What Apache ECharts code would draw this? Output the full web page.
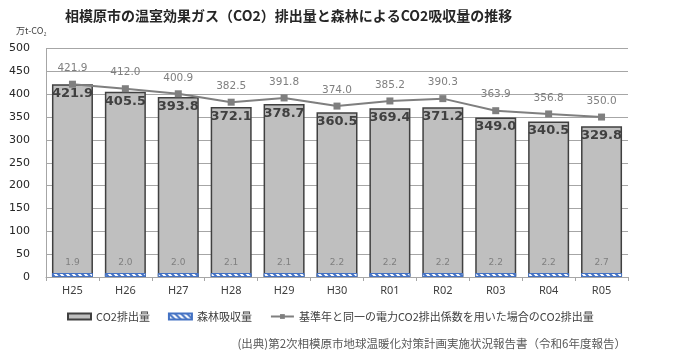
<!DOCTYPE html>
<html><head><meta charset="utf-8">
<script src="https://cdn.jsdelivr.net/npm/echarts@6/dist/echarts.min.js"></script>
<style>html,body{margin:0;padding:0;background:#fff}#c{width:690px;height:358px}</style>
</head><body><div id="c"></div>
<script>
const categories = ['H25','H26','H27','H28','H29','H30','R01','R02','R03','R04','R05'];
const emissions = [421.9,405.5,393.8,372.1,378.7,360.5,369.4,371.2,349.0,340.5,329.8];
const absorption = [1.9,2.0,2.0,2.1,2.1,2.2,2.2,2.2,2.2,2.2,2.7];
const baseYearEmissions = [421.9,412.0,400.9,382.5,391.8,374.0,385.2,390.3,363.9,356.8,350.0];
const seriesNames = ['CO2排出量','森林吸収量','基準年と同一の電力CO2排出係数を用いた場合のCO2排出量'];
const titleText = '相模原市の温室効果ガス（CO2）排出量と森林によるCO2吸収量の推移';
const unitText = '万t-CO₂';
const sourceText = '(出典)第2次相模原市地球温暖化対策計画実施状況報告書（令和6年度報告）';

function hatch(){
  const c=document.createElement('canvas'); c.width=6; c.height=6;
  const g=c.getContext('2d');
  g.fillStyle='#ffffff'; g.fillRect(0,0,6,6);
  g.strokeStyle='#4472c4'; g.lineWidth=2;
  g.beginPath();
  g.moveTo(-1,-1); g.lineTo(7,7);
  g.moveTo(-1,5); g.lineTo(1,7);
  g.moveTo(5,-1); g.lineTo(7,1);
  g.stroke();
  return c;
}
const hatchPattern = {image: hatch(), repeat: 'repeat'};

const chart = echarts.init(document.getElementById('c'), null, {renderer:'canvas'});
chart.setOption({
  animation:false,
  title:{text:titleText,left:60,top:4,textStyle:{fontFamily:'Noto Sans CJK JP',fontSize:14,fontWeight:'bold',color:'#262626'}},
  graphic:[
    {type:'text',left:16,top:26,style:{text:unitText,fontFamily:'Noto Sans CJK JP',fontSize:9,fill:'#404040'}},
    {type:'text',right:64,top:338,style:{text:sourceText,fontFamily:'Noto Sans CJK JP',fontSize:11.5,fill:'#595959'}}
  ],
  legend:{
    left:62, top:306, itemGap:18, itemWidth:23, itemHeight:6,
    textStyle:{fontFamily:'Noto Sans CJK JP',fontSize:11,color:'#404040'},
    data:[{name:seriesNames[0],icon:'rect'},{name:seriesNames[1],icon:'rect'},{name:seriesNames[2]}]
  },
  grid:{left:46,right:62,top:48.5,bottom:81,containLabel:false},
  xAxis:{
    type:'category',data:categories,
    axisLine:{lineStyle:{color:'#a6a6a6'}},
    axisTick:{show:true,length:4,lineStyle:{color:'#a6a6a6'}},
    axisLabel:{margin:8,fontFamily:'Noto Sans',fontSize:11,color:'#404040'}
  },
  yAxis:{
    type:'value',min:0,max:500,interval:50,
    axisLine:{show:true,lineStyle:{color:'#a6a6a6'}},
    axisTick:{show:false},
    splitLine:{lineStyle:{color:'#a6a6a6'}},
    axisLabel:{margin:16,fontFamily:'DejaVu Sans',fontSize:11,color:'#262626'}
  },
  series:[
    {name:seriesNames[0],type:'bar',data:emissions,barCategoryGap:'22.5%',barGap:'-100%',z:2,
     itemStyle:{color:'#bfbfbf',borderColor:'#404040',borderWidth:1.5},
     label:{show:true,position:'insideTop',distance:3,fontFamily:'DejaVu Sans',fontWeight:'bold',fontSize:13,color:'#404040',formatter:p=>p.value.toFixed(1)}},
    {name:seriesNames[1],type:'bar',data:absorption,barGap:'-100%',barMinHeight:4,z:3,
     itemStyle:{color:hatchPattern,borderColor:'#4472c4',borderWidth:1},
     label:{show:true,position:'top',distance:6,fontFamily:'DejaVu Sans',fontSize:9,color:'#7f7f7f',formatter:p=>p.value.toFixed(1)}},
    {name:seriesNames[2],type:'line',data:baseYearEmissions,z:4,
     symbol:'rect',symbolSize:7,
     lineStyle:{color:'#7f7f7f',width:2},itemStyle:{color:'#7f7f7f'},
     label:{show:true,position:'top',distance:7,fontFamily:'DejaVu Sans',fontSize:10.5,color:'#7f7f7f',formatter:p=>p.value.toFixed(1)}}
  ]
});
</script></body></html>
